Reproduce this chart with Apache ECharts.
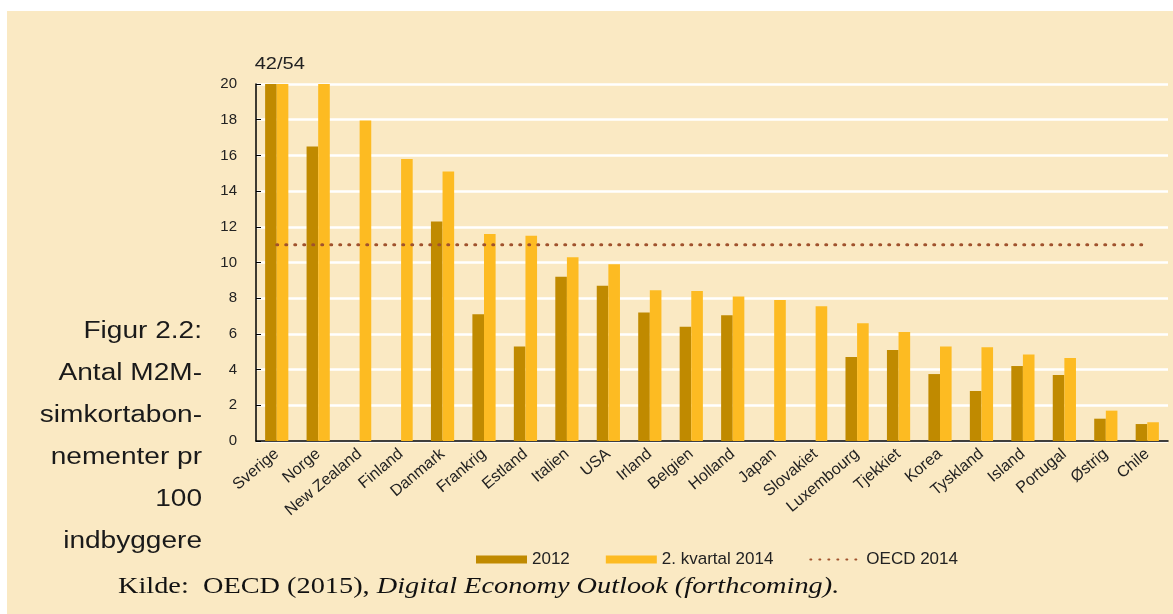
<!DOCTYPE html>
<html>
<head>
<meta charset="utf-8">
<script src="https://cdn.jsdelivr.net/npm/echarts@6/dist/echarts.min.js"></script>
<style>
  html, body { margin: 0; padding: 0; background: #ffffff; }
  #chart { position: absolute; left: 7px; top: 11px; width: 1166px; height: 603px; background: #fae9c3; }
</style>
</head>
<body>
<div id="chart"></div>
<script>
// data
var countries = ["Sverige", "Norge", "New Zealand", "Finland", "Danmark", "Frankrig", "Estland", "Italien",
	"USA", "Irland", "Belgien", "Holland", "Japan", "Slovakiet", "Luxembourg", "Tjekkiet", "Korea",
	"Tyskland", "Island", "Portugal", "Østrig", "Chile"];
var values2012 = [42, 16.5, null, null, 12.3, 7.1, 5.3, 9.2, 8.7, 7.2, 6.4, 7.05, null, null, 4.7, 5.1, 3.75,
	2.8, 4.2, 3.7, 1.25, 0.95];
var values2014 = [54, 20, 17.95, 15.8, 15.1, 11.6, 11.5, 10.3, 9.9, 8.45, 8.4, 8.1, 7.9, 7.55, 6.6, 6.1, 5.3,
	5.25, 4.85, 4.65, 1.7, 1.05];
var oecd2014 = 11;
var yTicks = { min: 0, max: 20, interval: 2 };

var oecdLine = countries.map(function() { return oecd2014; });

var myChart = echarts.init(document.getElementById('chart'));
myChart.setOption({
	backgroundColor: 'transparent',
	animation: false,
	grid: { left: 249, right: 5, top: 73, bottom: 173 },
	legend: {
		left: 464,
		top: 535,
		itemWidth: 51,
		itemHeight: 8,
		itemGap: 36,
		textStyle: { fontFamily: 'Liberation Sans', fontSize: 17, color: '#222' },
		data: [
			{ name: '2012', icon: 'rect' },
			{ name: '2. kvartal 2014', icon: 'rect' },
			{ name: 'OECD 2014', itemStyle: { opacity: 0 } }
		]
	},
	xAxis: {
		type: 'category',
		data: countries,
		axisLine: { lineStyle: { color: '#000', width: 1.5 } },
		axisTick: { inside: true, length: 5, lineStyle: { color: '#000' } },
		axisLabel: { rotate: 40, margin: 11, fontFamily: 'Liberation Sans', fontSize: 16, color: '#222' }
	},
	yAxis: {
		type: 'value',
		min: yTicks.min,
		max: yTicks.max,
		interval: yTicks.interval,
		axisLine: { show: true, lineStyle: { color: '#000', width: 1.5 } },
		axisTick: { show: true, inside: true, length: 5, lineStyle: { color: '#000' } },
		axisLabel: { margin: 19, fontFamily: 'Liberation Sans', fontSize: 15, color: '#222' },
		splitLine: { lineStyle: { color: '#ffffff', width: 2.5 } }
	},
	series: [{
		name: '2012',
		type: 'bar',
		data: values2012,
		barWidth: '28%',
		barGap: '0%',
		clip: true,
		itemStyle: { color: '#c08a00' }
	}, {
		name: '2. kvartal 2014',
		type: 'bar',
		data: values2014,
		barWidth: '28%',
		clip: true,
		itemStyle: { color: '#fdbb22' }
	}, {
		name: 'OECD 2014',
		type: 'line',
		data: oecdLine,
		symbol: 'none',
		itemStyle: { color: '#a0522d' },
		lineStyle: { color: '#a0522d', width: 3, type: [1, 8], cap: 'round' },
		z: 5
	}]
});

// clipped Sverige bars carry their true values as a text label above the plot
var svX = myChart.convertToPixel({ xAxisIndex: 0 }, countries[0]);
var topY = myChart.convertToPixel({ yAxisIndex: 0 }, yTicks.max);

myChart.setOption({
	graphic: [{
		type: 'text',
		x: svX + 3,
		y: topY - 11,
		scaleX: 1.25,
		style: {
			text: values2012[0] + '/' + values2014[0],
			fontFamily: 'Liberation Sans', fontSize: 16, fill: '#222',
			align: 'center', verticalAlign: 'bottom'
		}
	}, {
		type: 'text',
		x: 195,
		y: 300,
		scaleX: 1.22,
		style: {
			text: 'Figur 2.2:\nAntal M2M-\nsimkortabon-\nnementer pr\n100\nindbyggere',
			fontFamily: 'Liberation Sans', fontSize: 23, lineHeight: 42, fill: '#1a1a1a',
			align: 'right', verticalAlign: 'top'
		}
	}, {
		type: 'text',
		x: 111,
		y: 564,
		scaleX: 1.18,
		style: {
			rich: {
				n: { fontFamily: 'Liberation Serif', fontSize: 24, fill: '#111' },
				i: { fontFamily: 'Liberation Serif', fontSize: 24, fontStyle: 'italic', fill: '#111' }
			},
			text: '{n|Kilde:  OECD (2015), }{i|Digital Economy Outlook (forthcoming).}'
		}
	}]
});
</script>
</body>
</html>
